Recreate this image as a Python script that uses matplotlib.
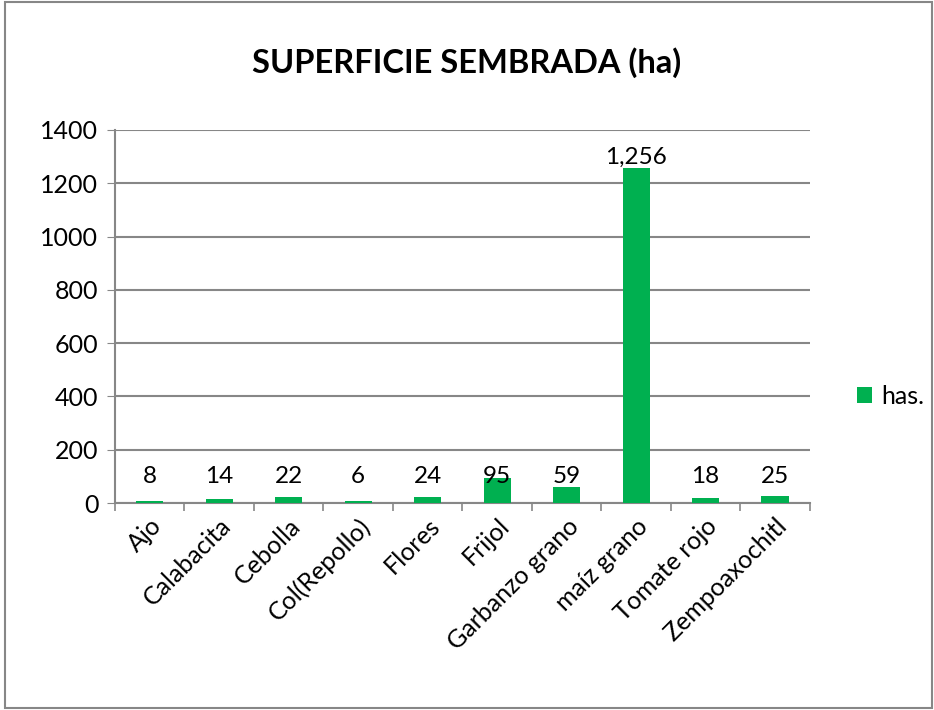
import numpy as np
import matplotlib.pyplot as plt
from matplotlib.patches import Rectangle

plt.rcParams['font.family'] = ['Lato', 'DejaVu Sans']

cultivos = ['Ajo', 'Calabacita', 'Cebolla', 'Col(Repollo)', 'Flores', 'Frijol',
            'Garbanzo grano', 'maíz grano', 'Tomate rojo', 'Zempoaxochitl']
has = [8, 14, 22, 6, 24, 95, 59, 1256, 18, 25]
etiquetas = ['8', '14', '22', '6', '24', '95', '59', '1,256', '18', '25']

verde = '#00B050'
gris = '#878787'

fig = plt.figure(figsize=(9.34, 7.10), dpi=100)
ax = fig.add_axes([0.1231, 0.2915, 0.7439, 0.5255])

x = np.arange(len(cultivos))
ax.bar(x, has, width=0.39, color=verde, label='has.', zorder=3)

for xi, v, t in zip(x, has, etiquetas):
    y = v if v > 200 else 62
    ax.annotate(t, (xi, y), xytext=(0, 0), textcoords='offset points',
                ha='center', va='bottom', fontsize=17.5, zorder=4)

ax.set_xlim(-0.5, len(cultivos) - 0.5)
ax.set_ylim(0, 1400)
ax.set_yticks(range(0, 1401, 200))
ax.tick_params(axis='y', labelsize=18, length=6, color=gris, pad=6)
ax.yaxis.grid(True, color=gris, linewidth=1.5, zorder=0)

ax.set_xticks(x)
ax.set_xticklabels(cultivos, rotation=45, ha='right', rotation_mode='anchor', fontsize=18)
ax.tick_params(axis='x', length=0, pad=8)
ax.set_xticks(np.arange(-0.5, len(cultivos)), minor=True)
ax.tick_params(axis='x', which='minor', length=6, color=gris, width=1.2)

for s in ['top', 'right']:
    ax.spines[s].set_visible(False)
for s in ['left', 'bottom']:
    ax.spines[s].set_color(gris)
    ax.spines[s].set_linewidth(1.5)

fig.text(0.5, 0.912, 'SUPERFICIE SEMBRADA (ha)', ha='center', va='center',
         fontsize=23.5, fontweight='bold')

ax.legend(loc='center left', bbox_to_anchor=(1.035, 0.285), frameon=False,
          fontsize=18, handlelength=0.6, handleheight=0.6, handletextpad=0.4)

fig.patches.append(Rectangle((5 / 934, 2 / 710), 927 / 934, 706 / 710,
                             transform=fig.transFigure, fill=False,
                             edgecolor=gris, linewidth=1.5))

fig.savefig('out.png', dpi=100)
